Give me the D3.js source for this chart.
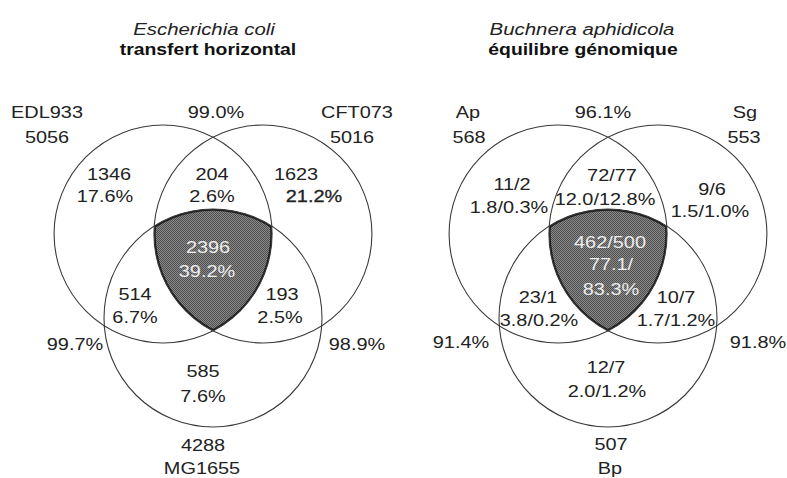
<!DOCTYPE html>
<html>
<head>
<meta charset="utf-8">
<script src="https://cdn.jsdelivr.net/npm/d3@7"></script>
<style>
  body { margin: 0; background: #fff; }
  text { font-family: "Liberation Sans", Arial, sans-serif; font-size: 17px; fill: #222; }
</style>
</head>
<body>
<div id="venn"></div>
<script>
// region order: A only, A&B, B only, A&B&C, A&C, B&C, C only
var regionKeys = ["A", "AB", "B", "ABC", "AC", "BC", "C"];

// Escherichia coli
var ecoliTitle = ["Escherichia coli", "transfert horizontal"];
var ecoliSets = ["EDL933", "CFT073", "MG1655"];
var ecoliTotals = ["5056", "5016", "4288"];
var ecoliPairs = ["99.0%", "99.7%", "98.9%"];          // AB, AC, BC
var ecoliCounts = ["1346", "204", "1623", "2396", "514", "193", "585"];
var ecoliPct = ["17.6%", "2.6%", "21.2%", "39.2%", "6.7%", "2.5%", "7.6%"];

// Buchnera aphidicola
var buchTitle = ["Buchnera aphidicola", "équilibre génomique"];
var buchSets = ["Ap", "Sg", "Bp"];
var buchTotals = ["568", "553", "507"];
var buchPairs = ["96.1%", "91.4%", "91.8%"];
var buchCounts = ["11/2", "72/77", "9/6", "462/500", "23/1", "10/7", "12/7"];
var buchPct = ["1.8/0.3%", "12.0/12.8%", "1.5/1.0%", "77.1/\n83.3%", "3.8/0.2%", "1.7/1.2%", "2.0/1.2%"];

// set the dimensions of the page
var width = 787, height = 478,
    R = 109;            // circle radius in px

var svg = d3.select("#venn").append("svg")
    .attr("width", width)
    .attr("height", height);

// halftone-like fill for the common core
var defs = svg.append("defs");
var pat = defs.append("pattern")
    .attr("id", "dots")
    .attr("width", 2).attr("height", 2)
    .attr("patternUnits", "userSpaceOnUse");
pat.append("rect").attr("width", 2).attr("height", 2).attr("fill", "#8a8a8a");
pat.append("rect").attr("width", 1).attr("height", 1).attr("fill", "#4e4e4e");
pat.append("rect").attr("x", 1).attr("y", 1).attr("width", 1).attr("height", 1).attr("fill", "#4e4e4e");

// circle centres in radius units (A top-left, B top-right, C bottom)
var centres = [[-0.458, 0], [0.458, 0], [0, 0.77]];

// label offsets in px from the diagram centre, one table per diagram
var layouts = [
  {
    cx: 213, cy: 234,
    title: [[-9, -199], [-5, -179]],
    names: [[-166, -116], [144, -116], [-11, 240]],
    totals: [[-166, -91], [139, -91], [-10, 217]],
    pairs: [[3, -116], [-138, 116], [144, 116]],
    counts: [[-104, -54], [-1, -54], [83, -54], [-5, 19], [-78, 66], [69, 66], [-10, 143]],
    pct: [[-108, -32], [-1, -32], [101, -32], [-6, 43], [-78, 89], [67, 89], [-10, 168]]
  },
  {
    cx: 608, cy: 234,
    title: [[-26, -199], [-25, -179]],
    names: [[-140, -116], [137, -116], [2, 240]],
    totals: [[-139, -91], [136, -91], [3, 216]],
    pairs: [[-5, -116], [-147, 114], [150, 114]],
    counts: [[-96, -44], [4, -53], [104, -39], [2, 14], [-70, 69], [68, 69], [-2, 139]],
    pct: [[-99, -21], [-3, -29], [102, -17], [3, 36], [-69, 92], [68, 92], [-1, 163]]
  }
];

function label(g, x, y, txt, sx) {
  return g.append("text")
      .attr("transform", "translate(" + x + "," + y + ") scale(" + (sx || 1.17) + ",1)")
      .attr("text-anchor", "middle")
      .text(txt);
}

function drawVenn(k, title, sets, totals, pairs, counts, pct) {
  var L = layouts[k];
  var x = d3.scaleLinear().domain([-1, 1]).range([L.cx - R, L.cx + R]);
  var y = d3.scaleLinear().domain([-1, 1]).range([L.cy - R, L.cy + R]);
  var g = svg.append("g");

  // one clip path per circle
  centres.forEach(function(c, i) {
    defs.append("clipPath").attr("id", "clip" + k + i)
      .append("circle")
      .attr("cx", x(c[0])).attr("cy", y(c[1])).attr("r", R);
  });

  // common core = inside A, B and C
  var core = g.append("g").attr("clip-path", "url(#clip" + k + "0)")
      .append("g").attr("clip-path", "url(#clip" + k + "1)")
      .append("g").attr("clip-path", "url(#clip" + k + "2)");
  core.append("rect")
      .attr("x", L.cx - 2 * R).attr("y", L.cy - 2 * R)
      .attr("width", 4 * R).attr("height", 4 * R)
      .attr("fill", "url(#dots)");
  core.selectAll(".edge")
      .data(centres)
      .enter().append("circle")
      .attr("cx", function(d) { return x(d[0]); })
      .attr("cy", function(d) { return y(d[1]); })
      .attr("r", R)
      .attr("fill", "none")
      .attr("stroke", "#1e1e1e")
      .attr("stroke-width", 3.4);

  g.selectAll(".set")
      .data(centres)
      .enter().append("circle")
      .attr("class", "set")
      .attr("cx", function(d) { return x(d[0]); })
      .attr("cy", function(d) { return y(d[1]); })
      .attr("r", R)
      .attr("fill", "none")
      .attr("stroke", "#3a3a3a")
      .attr("stroke-width", 1.1);

  // titles
  label(g, L.cx + L.title[0][0], L.cy + L.title[0][1], title[0], 1.2)
      .style("font-style", "italic");
  label(g, L.cx + L.title[1][0], L.cy + L.title[1][1], title[1], 1.14)
      .style("font-weight", "bold").style("fill", "#111");

  sets.forEach(function(s, i) {
    label(g, L.cx + L.names[i][0], L.cy + L.names[i][1], s);
    label(g, L.cx + L.totals[i][0], L.cy + L.totals[i][1], totals[i]);
  });
  pairs.forEach(function(p, i) {
    label(g, L.cx + L.pairs[i][0], L.cy + L.pairs[i][1], p);
  });
  regionKeys.forEach(function(key, i) {
    var inCore = key === "ABC";
    var t = label(g, L.cx + L.counts[i][0], L.cy + L.counts[i][1], counts[i]);
    if (inCore) t.style("fill", "#ececec");
    pct[i].split("\n").forEach(function(line, j) {
      var p = label(g, L.cx + L.pct[i][0], L.cy + L.pct[i][1] + j * 25, line);
      if (inCore) p.style("fill", "#ececec");
      if (k === 0 && key === "B") p.style("stroke", "#222").style("stroke-width", 0.3);
    });
  });
}

drawVenn(0, ecoliTitle, ecoliSets, ecoliTotals, ecoliPairs, ecoliCounts, ecoliPct);
drawVenn(1, buchTitle, buchSets, buchTotals, buchPairs, buchCounts, buchPct);
</script>
</body>
</html>
